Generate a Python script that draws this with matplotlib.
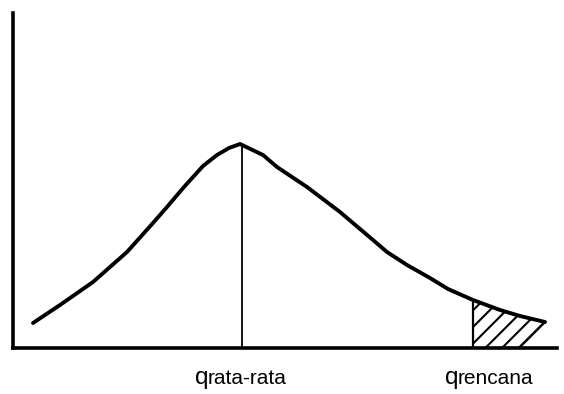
import matplotlib
matplotlib.use("Agg")
import matplotlib.pyplot as plt
from matplotlib.patches import Polygon
import numpy as np

# curve values (arbitrary units)
curve_px = [33, 60, 93, 127, 153, 167, 184, 203, 217, 229, 240,
            263, 277, 307, 340, 373, 387, 407, 430, 448, 473, 500, 520, 545]
curve_py = [323, 305, 282, 252, 223, 207, 187, 166, 155, 148, 144,
            155, 167, 187, 212, 240, 252, 265, 278, 289, 300, 310, 316, 322]
curve_x = [(p - 13) / 5.44 for p in curve_px]
curve_y = [(348 - p) / 3.35 for p in curve_py]
q_mean = (242 - 13) / 5.44
q_design = (473 - 13) / 5.44
tail_base_end = (519 - 13) / 5.44
label_main = ["q", "q"]
label_sub = ["rata-rata", "rencana"]
label_x = [(208 - 13) / 5.44, (458 - 13) / 5.44]

plt.rcParams['font.family'] = ['Liberation Sans', 'DejaVu Sans']
plt.rcParams['hatch.linewidth'] = 1.5
fig = plt.figure(figsize=(5.64, 3.94), dpi=100)
ax = fig.add_axes([13/564, 1 - 348/394, 544/564, 335/394])
ax.set_xlim(0, 100)
ax.set_ylim(0, 100)

ax.plot(curve_x, curve_y, color='black', lw=2.8, solid_capstyle='round',
        solid_joinstyle='round', zorder=3)

# vertical line at the mean
ym = float(np.interp(q_mean, curve_x, curve_y))
ax.plot([q_mean, q_mean], [0, ym], color='black', lw=1.3)

# hatched tail
xs = [x for x in curve_x if x >= q_design - 0.1]
ys = [y for x, y in zip(curve_x, curve_y) if x >= q_design - 0.1]
poly = list(zip(xs, ys)) + [(tail_base_end, 0), (q_design, 0)]
ax.add_patch(Polygon(poly, closed=True, facecolor='none', edgecolor='black',
                     hatch='//', lw=1.6, zorder=2))

for sp in ['top', 'right']:
    ax.spines[sp].set_visible(False)
for sp in ['left', 'bottom']:
    ax.spines[sp].set_linewidth(2.6)
ax.set_xticks([])
ax.set_yticks([])

tr = ax.get_xaxis_transform()
for lx, m, s in zip(label_x, label_main, label_sub):
    ax.text(lx, -0.107, m, transform=tr, ha='right', va='baseline', fontsize=17.5)
    ax.text(lx, -0.107, s, transform=tr, ha='left', va='baseline', fontsize=15)

fig.savefig("out.png", dpi=100)
